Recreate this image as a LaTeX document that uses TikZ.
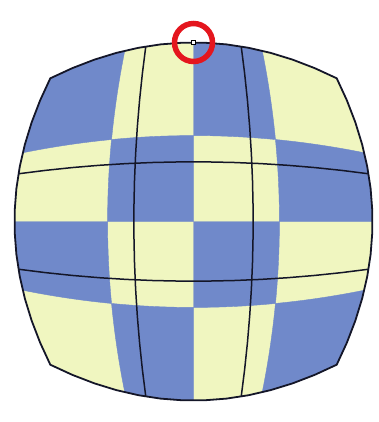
\documentclass[tikz,border=0pt]{standalone}
\usepackage{tikz}
\usetikzlibrary{positioning}
\definecolor{chkblue}{RGB}{112,137,202}
\definecolor{chkyellow}{RGB}{240,246,192}
\definecolor{gridink}{RGB}{20,22,40}
\definecolor{hired}{RGB}{228,22,30}
\tikzset{
  cellb/.style={fill=chkblue, draw=chkblue, line width=0.4pt},
  gline/.style={gridink, line width=1.5pt},
  rim/.style={draw=gridink, line width=1.8pt, line join=round},
  ring/.style={circle, draw=hired, line width=5.5pt, minimum size=38pt, inner sep=0pt},
  grip/.style={rectangle, draw=black, fill=white, minimum size=4pt, inner sep=0pt, line width=0.8pt},
}
\begin{document}
\begin{tikzpicture}[x=1pt, y=-1pt, samples=14,
  declare function={bx(\u,\v)=193.5+179*\u*(1-0.2*\v*\v); by(\u,\v)=221.5+179*\v*(1-0.2*\u*\u);}]
\useasboundingbox (0,0) rectangle (379,422);
% bulged square, pale first
\fill[chkyellow] plot[domain=-1:1] ({bx(\x,-1)},{by(\x,-1)})
  -- plot[domain=-1:1] ({bx(1,\x)},{by(1,\x)})
  -- plot[domain=1:-1] ({bx(\x,1)},{by(\x,1)})
  -- plot[domain=1:-1] ({bx(-1,\x)},{by(-1,\x)}) -- cycle;
% blue checker cells
\def\bnd{{-1,-0.48,0,0.48,1}}
\foreach \i/\j in {0/0,2/0,1/1,3/1,0/2,2/2,1/3,3/3}{
  \pgfmathsetmacro\ua{\bnd[\i]}
  \pgfmathsetmacro\ub{\bnd[\i+1]}
  \pgfmathsetmacro\va{\bnd[\j]}
  \pgfmathsetmacro\vb{\bnd[\j+1]}
  \fill[cellb] plot[domain=\ua:\ub] ({bx(\x,\va)},{by(\x,\va)})
    -- plot[domain=\va:\vb] ({bx(\ub,\x)},{by(\ub,\x)})
    -- plot[domain=\ub:\ua] ({bx(\x,\vb)},{by(\x,\vb)})
    -- plot[domain=\vb:\va] ({bx(\ua,\x)},{by(\ua,\x)}) -- cycle;
}
% warped 3x3 grid
\foreach \t in {-0.3333,0.3333}{
  \draw[gline] plot[domain=-1:1] ({bx(\t,\x)},{by(\t,\x)});
  \draw[gline] plot[domain=-1:1] ({bx(\x,\t)},{by(\x,\t)});
}
\draw[rim] plot[domain=-1:1] ({bx(\x,-1)},{by(\x,-1)})
  -- plot[domain=-1:1] ({bx(1,\x)},{by(1,\x)})
  -- plot[domain=1:-1] ({bx(\x,1)},{by(\x,1)})
  -- plot[domain=1:-1] ({bx(-1,\x)},{by(-1,\x)}) -- cycle;
% picked control point
\node[ring] (hilite) at ({bx(0,-1)},{by(0,-1)}) {};
\node[grip] (handle) at (hilite.center) {};
\end{tikzpicture}
\end{document}
